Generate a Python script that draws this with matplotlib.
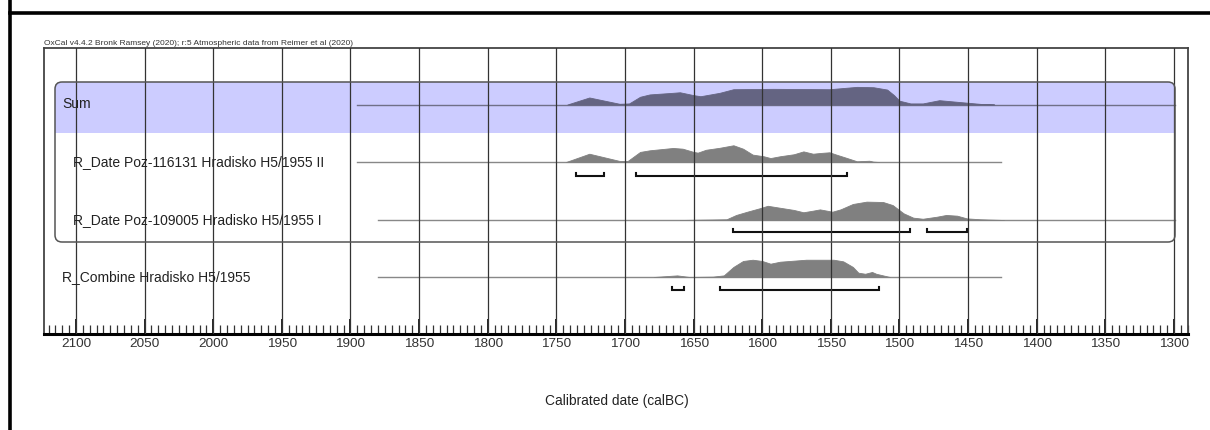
import matplotlib
matplotlib.use("Agg")
import matplotlib.pyplot as plt
from matplotlib import transforms
from matplotlib.patches import FancyBboxPatch, Rectangle
from matplotlib.lines import Line2D

plt.rcParams['font.family'] = ['Liberation Sans', 'DejaVu Sans']

# ---- data -------------------------------------------------------------
header = "OxCal v4.4.2 Bronk Ramsey (2020); r:5 Atmospheric data from Reimer et al (2020)"
x_label = "Calibrated date (calBC)"
tick_years = [2100, 2050, 2000, 1950, 1900, 1850, 1800, 1750, 1700, 1650,
              1600, 1550, 1500, 1450, 1400, 1350, 1300]

row_labels = ["Sum",
              "R_Date Poz-116131 Hradisko H5/1955 II",
              "R_Date Poz-109005 Hradisko H5/1955 I",
              "R_Combine Hradisko H5/1955"]

sum_years = [1742, 1726, 1704, 1697, 1689, 1682, 1665, 1660, 1650, 1645, 1631,
             1621, 1592, 1551, 1531, 1519, 1509, 1504, 1500, 1492, 1483, 1471,
             1458, 1439, 1431]
sum_prob = [0, 0.39, 0.04, 0.06, 0.43, 0.56, 0.65, 0.68, 0.52, 0.46, 0.65,
            0.85, 0.87, 0.85, 0.98, 0.96, 0.83, 0.52, 0.21, 0.06, 0.06, 0.24,
            0.15, 0.02, 0]

poz116131_years = [1743, 1726, 1704, 1698, 1689, 1682, 1665, 1658, 1650, 1647,
                   1641, 1631, 1621, 1614, 1607, 1599, 1594, 1587, 1577, 1570,
                   1563, 1558, 1551, 1546, 1539, 1531, 1522, 1519, 1515]
poz116131_prob = [0, 0.46, 0.06, 0.06, 0.56, 0.65, 0.78, 0.74, 0.56, 0.52,
                  0.68, 0.79, 0.93, 0.74, 0.41, 0.32, 0.22, 0.32, 0.43, 0.59,
                  0.46, 0.50, 0.54, 0.41, 0.24, 0.04, 0.07, 0.02, 0]

poz109005_years = [1660, 1626, 1619, 1611, 1602, 1596, 1587, 1577, 1570, 1563,
                   1558, 1553, 1549, 1543, 1534, 1524, 1512, 1505, 1497, 1490,
                   1483, 1473, 1466, 1458, 1451, 1441, 1424]
poz109005_prob = [0, 0.04, 0.28, 0.46, 0.65, 0.79, 0.68, 0.56, 0.43, 0.52,
                  0.59, 0.52, 0.46, 0.59, 0.89, 1.02, 1.00, 0.83, 0.37, 0.13,
                  0.07, 0.18, 0.28, 0.24, 0.09, 0.04, 0]

combine_years = [1679, 1662, 1653, 1636, 1628, 1621, 1614, 1607, 1600, 1594,
                 1587, 1568, 1548, 1541, 1534, 1530, 1525, 1520, 1517, 1507]
combine_prob = [0, 0.09, 0, 0.02, 0.09, 0.56, 0.89, 0.96, 0.89, 0.74,
                0.85, 0.96, 0.96, 0.87, 0.56, 0.24, 0.18, 0.28, 0.18, 0]

# 95.4% highest posterior density ranges (calBC)
poz116131_ranges = [(1736, 1715), (1692, 1538)]
poz109005_ranges = [(1621, 1492), (1480, 1451)]
combine_ranges = [(1666, 1657), (1631, 1515)]

# extent of each row's baseline (calBC)
sum_span = (1895, 1299)
poz116131_span = (1895, 1426)
poz109005_span = (1880, 1299)
combine_span = (1880, 1426)

# ---- figure -----------------------------------------------------------
W, H = 1210, 430
fig = plt.figure(figsize=(W / 100, H / 100), dpi=100)
fig.patch.set_facecolor("white")

# image-pixel coordinates (origin top-left) for layout decorations
px = transforms.Affine2D().scale(1, -1).translate(0, H)

L, R, T, B = 44, 1188, 48, 334
ax = fig.add_axes([L / W, 1 - B / H, (R - L) / W, (B - T) / H])
ax.set_xlim(2123.3, 1289.8)
ax.set_ylim(B, T)  # vertical units follow pixel rows

# rows: baseline y, bracket y
row_y = [104.5, 162, 220, 277]
bracket_y = [None, 176, 232, 290]
peak_h = 18.0

# outer page border (top and left)
fig.add_artist(Line2D([10, 10], [H, 0], transform=px, color="black", lw=2.6))
fig.add_artist(Line2D([10, W], [13, 13], transform=px, color="black", lw=2.6))

# grouping box with blue Sum band
box = FancyBboxPatch((55, 82), 1175 - 55, 242 - 82,
                     boxstyle="round,pad=0,rounding_size=7",
                     transform=px, facecolor="none", edgecolor="#555555",
                     lw=1.1, zorder=4)
ax.add_patch(box)
band = Rectangle((55, 82), 1175 - 55, 133 - 82, transform=px,
                 facecolor="#ccccff", edgecolor="none", zorder=0)
ax.add_patch(band)
band.set_clip_path(box)

# baselines
spans = [sum_span, poz116131_span, poz109005_span, combine_span]
for (a, b), y, c in zip(spans, row_y, ["#707088", "#888888", "#888888", "#888888"]):
    ax.plot([a, b], [y, y], color=c, lw=1.0, zorder=1)

# distributions
dists = [(sum_years, sum_prob, "#646482"),
         (poz116131_years, poz116131_prob, "#808080"),
         (poz109005_years, poz109005_prob, "#808080"),
         (combine_years, combine_prob, "#808080")]
for (yrs, p, col), y in zip(dists, row_y):
    top = [y - v * peak_h for v in p]
    ax.fill_between(yrs, [y] * len(yrs), top, color=col, lw=0.6,
                    edgecolor=col, zorder=2)

# range brackets
for ranges, y in zip([None, poz116131_ranges, poz109005_ranges, combine_ranges],
                     bracket_y):
    if not ranges:
        continue
    for a, b in ranges:
        ax.plot([a, a, b, b], [y - 3.5, y, y, y - 3.5], color="#111111",
                lw=1.5, solid_joinstyle="miter", zorder=3)

# labels
lab = transforms.blended_transform_factory(px, ax.transData)
label_x = [62, 73, 73, 62]
for text, x, y in zip(row_labels, label_x, row_y):
    ax.text(x, y, text, transform=lab, ha="left", va="center",
            fontsize=10, color="#222222", zorder=5)

# vertical grid at every labelled year
for yr in tick_years:
    ax.axvline(yr, color="#333333", lw=0.9, zorder=3)

# axes frame and ticks
for s in ["left", "right", "top"]:
    ax.spines[s].set_color("#444444")
    ax.spines[s].set_linewidth(1.3)
ax.spines["bottom"].set_color("black")
ax.spines["bottom"].set_linewidth(2.2)
ax.set_yticks([])
ax.set_xticks(tick_years)
ax.set_xticklabels([str(t) for t in tick_years])
ax.set_xticks(range(1290, 2125, 5), minor=True)
ax.tick_params(axis="x", which="major", direction="in", length=11, width=1.2,
               labelsize=9.7, labelcolor="#333333", pad=3)
ax.tick_params(axis="x", which="minor", direction="in", length=6.5, width=0.9,
               color="#333333")

fig.text(44 / W, 1 - 45 / H, header, fontsize=6, color="#333333",
         ha="left", va="baseline")
fig.text(617 / W, 1 - 401 / H, x_label, fontsize=9.9, color="#222222",
         ha="center", va="center")

fig.savefig("out.png", dpi=100, facecolor="white")
